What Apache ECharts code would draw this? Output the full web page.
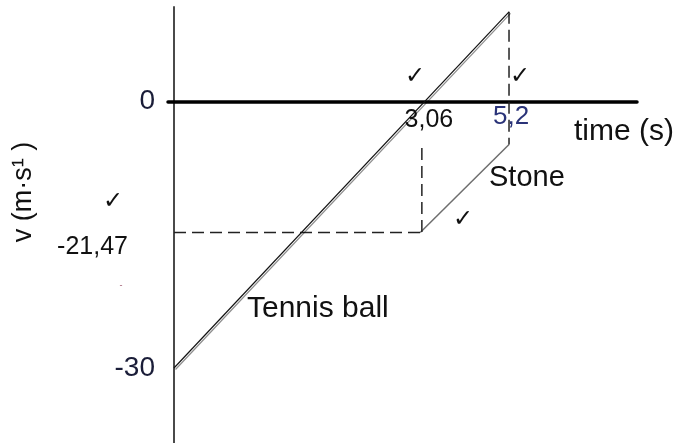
<!DOCTYPE html>
<html>
<head>
<meta charset="utf-8">
<script src="https://cdn.jsdelivr.net/npm/echarts@6/dist/echarts.min.js"></script>
<style>
html,body{margin:0;padding:0;background:#fff;}
#chart1{width:677px;height:443px;}
</style>
</head>
<body>
<div id="chart1"></div>
<script>
// sketch coordinates (the drawing is not to scale, so values follow the drawn positions)
var tennisT = [0, 4.136];
var tennisV = [-30, 10.1];

var stoneT = [3.04, 4.136];
var stoneV = [-14.75, -4.84];

// dashed construction lines
var guideLowT = [0, 3.04];
var guideLowV = [-14.75, -14.75];
var guideMidT = [3.06, 3.06];
var guideMidV = [-5.23, -14.75];
var guideEndT = [4.136, 4.136];
var guideEndV = [10.1, -4.84];

// tick labels written on the sketch
var xTickValues = [3.06, 4.136];
var xTickLabels = ['3,06', '5,2'];
var yTickValues = [0, -30];
var yTickLabels = ['0', '-30'];

function pairs(xs, ys) {
    var out = [];
    for (var i = 0; i < xs.length; i++) {
        out.push([xs[i], ys[i]]);
    }
    return out;
}

var font = 'Liberation Sans, Arial, sans-serif';
var ink = '#111';
var dashStyle = {color: '#222', width: 1.5, type: [12, 6]};
var tick = 'bold 24px DejaVu Sans';

var option1 = {
    animation: false,
    grid: {left: 168, top: 7, width: 469, height: 436, containLabel: false, outerBoundsMode: 'none'},
    xAxis: {
        type: 'value',
        min: -0.074,
        max: 5.716,
        splitLine: {show: false},
        axisTick: {show: false},
        axisLabel: {show: false},
        axisLine: {show: true, onZero: true, lineStyle: {color: '#000', width: 3.5}}
    },
    yAxis: {
        type: 'value',
        min: -38.44,
        max: 10.64,
        splitLine: {show: false},
        axisTick: {show: false},
        axisLine: {show: true, onZero: true, lineStyle: {color: '#4a4a4a', width: 2}},
        axisLabel: {
            customValues: yTickValues,
            margin: 13,
            fontFamily: font,
            fontSize: 28,
            color: '#1a1d38',
            formatter: function (v) {
                for (var i = 0; i < yTickValues.length; i++) {
                    if (Math.abs(yTickValues[i] - v) < 1e-6) return yTickLabels[i];
                }
                return '';
            }
        }
    },
    series: [
        {
            name: 'Tennis ball', type: 'line', symbol: 'none', z: 5,
            lineStyle: {color: '#111', width: 1.2, shadowColor: 'rgba(0,0,0,0.45)', shadowBlur: 0, shadowOffsetX: 1.5, shadowOffsetY: 1.5},
            data: pairs(tennisT, tennisV)
        },
        {
            name: 'Stone', type: 'line', symbol: 'none',
            lineStyle: {color: '#6e6e6e', width: 1.5},
            data: pairs(stoneT, stoneV)
        },
        {type: 'line', symbol: 'none', lineStyle: dashStyle, data: pairs(guideLowT, guideLowV)},
        {type: 'line', symbol: 'none', lineStyle: dashStyle, data: pairs(guideMidT, guideMidV)},
        {type: 'line', symbol: 'none', lineStyle: dashStyle, data: pairs(guideEndT, guideEndV)}
    ],
    graphic: [
        {type: 'text', x: 574, y: 132, style: {text: 'time (s)', font: '30px ' + font, fill: ink, align: 'left', verticalAlign: 'middle'}},
        {type: 'text', x: 247, y: 309, style: {text: 'Tennis ball', font: '30px ' + font, fill: ink, align: 'left', verticalAlign: 'middle'}},
        {type: 'text', x: 489, y: 178, style: {text: 'Stone', font: '29px ' + font, fill: ink, align: 'left', verticalAlign: 'middle'}},
        {type: 'text', x: 128, y: 247, style: {text: '-21,47', font: '25px ' + font, fill: ink, align: 'right', verticalAlign: 'middle'}},
        {type: 'text', x: 24, y: 192, rotation: Math.PI / 2, style: {text: 'v (m·s¹ )', font: '27px ' + font, fill: ink, align: 'center', verticalAlign: 'middle'}},
        {type: 'text', x: 415, y: 77, style: {text: '✓', font: tick, fill: ink, align: 'center', verticalAlign: 'middle'}},
        {type: 'text', x: 520, y: 77, style: {text: '✓', font: tick, fill: ink, align: 'center', verticalAlign: 'middle'}},
        {type: 'text', x: 113, y: 202, style: {text: '✓', font: tick, fill: ink, align: 'center', verticalAlign: 'middle'}},
        {type: 'text', x: 463, y: 220, style: {text: '✓', font: tick, fill: ink, align: 'center', verticalAlign: 'middle'}},
        {type: 'text', x: 121, y: 286, style: {text: '-', font: '9px ' + font, fill: '#a05a70', align: 'center', verticalAlign: 'middle'}}
    ]
};

var chart = echarts.init(document.getElementById('chart1'));
chart.setOption(option1);

// x tick labels sit just under the zero line, placed from their data values
var tickDx = [7, 2];
var tickDy = [6, 2];
var tickSize = [25, 26];
var tickColor = [ink, '#2a3378'];
var extra = [];
for (var i = 0; i < xTickValues.length; i++) {
    var p = chart.convertToPixel({gridIndex: 0}, [xTickValues[i], 0]);
    extra.push({
        type: 'text', x: p[0] + tickDx[i], y: p[1] + tickDy[i],
        style: {text: xTickLabels[i], font: tickSize[i] + 'px ' + font, fill: tickColor[i], align: 'center', verticalAlign: 'top'}
    });
}
chart.setOption({graphic: option1.graphic.concat(extra)});
</script>
</body>
</html>
